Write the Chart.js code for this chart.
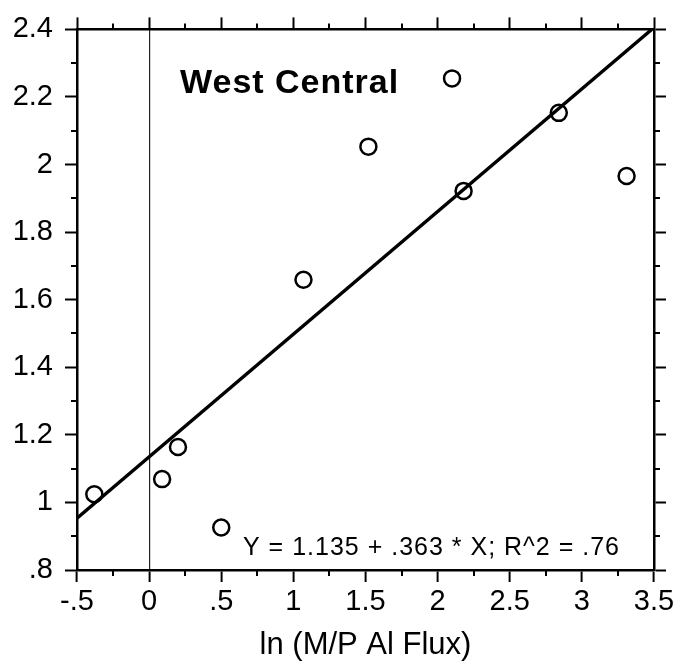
<!DOCTYPE html>
<html>
<head>
<meta charset="utf-8">
<script src="https://cdn.jsdelivr.net/npm/chart.js@4/dist/chart.umd.min.js"></script>
<style>
  html, body { margin: 0; padding: 0; background: #fff; }
  canvas { display: block; }
</style>
</head>
<body>
<canvas id="fluxChart" width="696" height="666"></canvas>
<script>
// ln(M/P Al flux) against the response, West Central sites
const fluxLn = [-0.38, 0.09, 0.20, 0.50, 1.07, 1.52, 2.10, 2.18, 2.84, 3.31];
const response = [1.024, 1.069, 1.164, 0.926, 1.659, 2.053, 2.255, 1.922, 2.153, 1.966];

// fitted line: Y = a + b * X
const intercept = 1.135;
const slope = 0.363;
const rSquared = '.76';

const xTickValues = [-0.5, 0, 0.5, 1, 1.5, 2, 2.5, 3, 3.5];
const xTickLabels = ['-.5', '0', '.5', '1', '1.5', '2', '2.5', '3', '3.5'];
const yTickValues = [0.8, 1, 1.2, 1.4, 1.6, 1.8, 2, 2.2, 2.4];
const yTickLabels = ['.8', '1', '1.2', '1.4', '1.6', '1.8', '2', '2.2', '2.4'];
const xMinorTicks = [-0.25, 0.25, 0.75, 1.25, 1.75, 2.25, 2.75, 3.25];
const yMinorTicks = [0.9, 1.1, 1.3, 1.5, 1.7, 1.9, 2.1, 2.3];

const panelTitle = 'West Central';
const xTitle = 'ln (M/P Al Flux)';
const fitText = 'Y = ' + intercept + ' + ' + String(slope).replace(/^0/, '') + ' * X; R^2 = ' + rSquared;

const xMin = xTickValues[0], xMax = xTickValues[xTickValues.length - 1];
const yMin = yTickValues[0], yMax = yTickValues[yTickValues.length - 1];

const FONT = '"Liberation Sans", Arial, Helvetica, sans-serif';
const INK = '#000';

const points = fluxLn.map((v, i) => ({ x: v, y: response[i] }));
const fitLine = [xMin, xMax].map(v => ({ x: v, y: intercept + slope * v }));

function fixTicks(values) {
  return scale => { scale.ticks = values.map(v => ({ value: v })); };
}

// minor ticks on all four sides, plus the two text blocks inside the frame
const frameExtras = {
  id: 'frameExtras',
  afterDraw(chart) {
    const { ctx, chartArea: a, scales: { x, y } } = chart;
    ctx.save();
    ctx.strokeStyle = INK;
    ctx.lineWidth = 2;
    ctx.beginPath();
    xMinorTicks.forEach(v => {
      const px = Math.round(x.getPixelForValue(v));
      ctx.moveTo(px, a.bottom); ctx.lineTo(px, a.bottom + 6);
      ctx.moveTo(px, a.top); ctx.lineTo(px, a.top - 6);
    });
    yMinorTicks.forEach(v => {
      const py = Math.round(y.getPixelForValue(v));
      ctx.moveTo(a.left, py); ctx.lineTo(a.left - 6, py);
      ctx.moveTo(a.right, py); ctx.lineTo(a.right + 6, py);
    });
    ctx.stroke();

    ctx.fillStyle = INK;
    ctx.textBaseline = 'alphabetic';
    ctx.textAlign = 'left';
    ctx.font = 'bold 34px ' + FONT;
    ctx.letterSpacing = '1px';
    ctx.fillText(panelTitle, a.left + 103, a.top + 64);
    ctx.font = '25px ' + FONT;
    ctx.letterSpacing = '1px';
    ctx.fillText(fitText, a.left + 166, a.bottom - 15);
    ctx.restore();
  }
};

const axisBorder = { display: true, color: INK, width: 2.5 };
const majorGrid = { drawOnChartArea: false, color: INK, tickColor: INK, tickLength: 12, tickWidth: 2 };
const tickFont = { family: FONT, size: 29 };

new Chart(document.getElementById('fluxChart'), {
  type: 'scatter',
  data: {
    datasets: [
      {
        type: 'line',
        label: 'fit',
        data: fitLine,
        borderColor: INK,
        borderWidth: 3.4,
        pointRadius: 0,
        fill: false,
        order: 2
      },
      {
        label: 'West Central',
        data: points,
        pointStyle: 'circle',
        pointRadius: 8,
        pointBorderWidth: 2.5,
        pointBorderColor: INK,
        pointBackgroundColor: 'rgba(0,0,0,0)',
        order: 1
      }
    ]
  },
  options: {
    responsive: false,
    animation: false,
    layout: { padding: 0 },
    plugins: {
      legend: { display: false },
      tooltip: { enabled: false }
    },
    scales: {
      x: {
        type: 'linear',
        position: 'bottom',
        min: xMin, max: xMax,
        afterBuildTicks: fixTicks(xTickValues),
        afterFit: s => { s.height = 96; },
        border: axisBorder,
        grid: {
          drawOnChartArea: true,
          color: c => (c.tick && c.tick.value === 0 ? '#222' : 'rgba(0,0,0,0)'),
          lineWidth: 1.2,
          tickColor: INK,
          tickLength: 12,
          tickWidth: 2
        },
        ticks: {
          color: INK,
          font: tickFont,
          padding: 3,
          maxRotation: 0,
          callback: (v, i) => xTickLabels[i]
        },
        title: {
          display: true,
          text: xTitle,
          color: INK,
          font: { family: FONT, size: 31 },
          padding: { top: 0, bottom: 2 }
        }
      },
      xTop: {
        type: 'linear',
        position: 'top',
        display: true,
        min: xMin, max: xMax,
        afterBuildTicks: fixTicks(xTickValues),
        afterFit: s => { s.height = 20; },
        border: axisBorder,
        grid: majorGrid,
        ticks: { display: false }
      },
      y: {
        type: 'linear',
        position: 'left',
        min: yMin, max: yMax,
        afterBuildTicks: fixTicks(yTickValues),
        afterFit: s => { s.width = 77; },
        border: axisBorder,
        grid: majorGrid,
        ticks: {
          color: INK,
          font: tickFont,
          padding: 12,
          callback: (v, i) => yTickLabels[i]
        }
      },
      yRight: {
        type: 'linear',
        position: 'right',
        display: true,
        min: yMin, max: yMax,
        afterBuildTicks: fixTicks(yTickValues),
        afterFit: s => { s.width = 42; },
        border: axisBorder,
        grid: majorGrid,
        ticks: { display: false }
      }
    }
  },
  plugins: [frameExtras]
});
</script>
</body>
</html>
